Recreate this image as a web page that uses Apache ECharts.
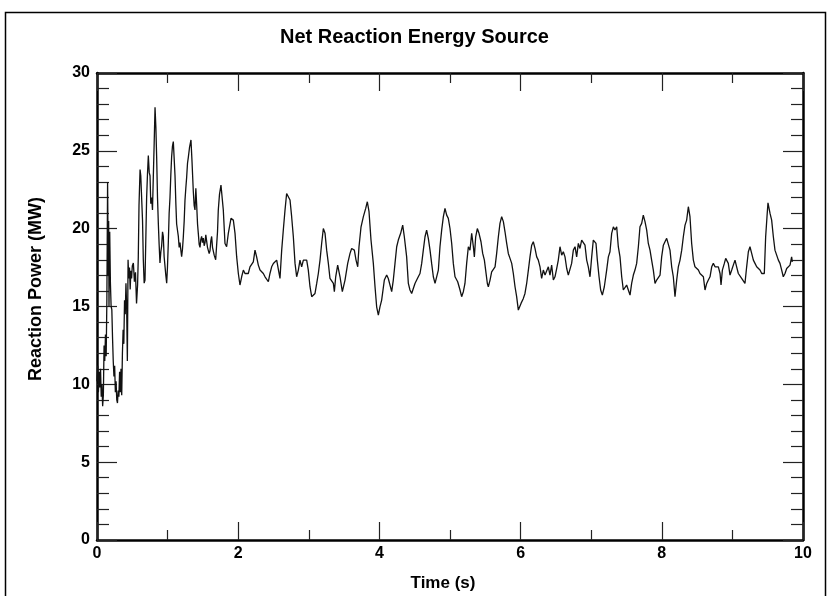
<!DOCTYPE html>
<html>
<head>
<meta charset="utf-8">
<script src="https://cdn.jsdelivr.net/npm/echarts@6/dist/echarts.min.js"></script>
<style>
html,body{margin:0;padding:0;background:#fff;}
#chart{width:829px;height:596px;}
</style>
</head>
<body>
<div id="chart"></div>
<script>
var titleText = "Net Reaction Energy Source";
var xName = "Time (s)";
var yName = "Reaction Power (MW)";
var xTicks = [0, 2, 4, 6, 8, 10];
var yTicks = [0, 5, 10, 15, 20, 25, 30];

var time = [
0.00,0.01,0.02,0.03,0.04,0.05,0.06,0.07,0.08,0.09,0.10,0.11,0.12,0.13,0.14,0.15,0.16,0.165,0.17,0.18,0.19,0.20,
0.21,0.22,0.23,0.24,0.25,0.26,0.27,0.28,0.29,0.30,0.31,0.32,0.33,0.34,0.35,0.36,0.37,0.38,0.39,0.40,0.41,0.42,
0.43,0.44,0.45,0.46,0.47,0.48,0.49,0.50,0.515,0.53,0.545,0.56,0.575,0.585,0.595,0.61,0.62,0.633,0.645,0.656,
0.668,0.68,0.69,0.703,0.715,0.727,0.74,0.751,0.762,0.774,0.786,0.798,0.81,0.822,0.834,0.845,0.857,0.869,0.88,
0.892,0.904,0.916,0.928,0.939,0.951,0.963,0.975,0.987,0.998,1.010,1.022,1.034,1.046,1.057,1.069,1.081,1.093,
1.105,1.117,1.128,1.140,1.152,1.164,1.176,1.188,1.199,1.211,1.223,1.235,1.246,1.258,1.270,1.282,1.294,1.31,
1.331,1.345,1.364,1.376,1.388,1.400,1.412,1.424,1.435,1.447,1.459,1.470,1.482,1.494,1.506,1.518,1.530,1.541,
1.553,1.565,1.577,1.589,1.601,1.612,1.624,1.636,1.648,1.660,1.672,1.681,1.695,1.707,1.718,1.735,1.756,1.789,
1.813,1.836,1.860,1.898,1.931,1.955,1.978,2.002,2.025,2.049,2.073,2.096,2.120,2.143,2.167,2.191,2.214,2.238,
2.261,2.285,2.309,2.332,2.356,2.380,2.403,2.427,2.450,2.474,2.498,2.521,2.545,2.568,2.592,2.616,2.639,2.663,
2.686,2.710,2.734,2.757,2.781,2.805,2.828,2.852,2.875,2.899,2.923,2.946,2.970,2.993,3.017,3.041,3.064,3.088,
3.112,3.135,3.159,3.182,3.206,3.230,3.253,3.277,3.300,3.324,3.348,3.362,3.381,3.409,3.442,3.475,3.513,3.551,
3.584,3.607,3.645,3.669,3.693,3.711,3.740,3.773,3.806,3.829,3.853,3.881,3.914,3.938,3.961,3.985,4.008,4.032,
4.070,4.103,4.126,4.150,4.174,4.197,4.221,4.245,4.268,4.301,4.330,4.353,4.386,4.410,4.433,4.457,4.481,4.504,
4.528,4.551,4.575,4.599,4.622,4.646,4.669,4.693,4.717,4.740,4.764,4.788,4.811,4.835,4.858,4.882,4.906,4.929,
4.953,4.976,5.000,5.024,5.047,5.071,5.109,5.142,5.165,5.189,5.212,5.236,5.260,5.283,5.307,5.331,5.345,5.364,
5.387,5.411,5.439,5.463,5.487,5.505,5.529,5.543,5.567,5.590,5.614,5.638,5.661,5.685,5.708,5.732,5.756,5.779,
5.803,5.826,5.850,5.874,5.897,5.921,5.944,5.968,5.982,6.006,6.039,6.062,6.086,6.110,6.133,6.157,6.180,6.204,
6.228,6.251,6.275,6.298,6.322,6.346,6.369,6.393,6.416,6.440,6.464,6.487,6.511,6.534,6.558,6.582,6.605,6.629,
6.653,6.676,6.700,6.723,6.747,6.771,6.794,6.818,6.841,6.865,6.889,6.912,6.936,6.959,6.983,7.007,7.030,7.054,
7.068,7.087,7.111,7.134,7.158,7.186,7.219,7.243,7.266,7.290,7.314,7.337,7.361,7.384,7.408,7.432,7.455,7.479,
7.502,7.526,7.550,7.573,7.597,7.620,7.644,7.668,7.691,7.715,7.738,7.762,7.786,7.809,7.833,7.856,7.880,7.904,
7.927,7.951,7.975,7.998,8.022,8.045,8.069,8.093,8.116,8.140,8.163,8.187,8.211,8.234,8.258,8.282,8.305,8.329,
8.352,8.376,8.399,8.423,8.447,8.470,8.494,8.518,8.541,8.565,8.589,8.612,8.636,8.659,8.683,8.707,8.730,8.754,
8.777,8.801,8.825,8.839,8.858,8.886,8.905,8.928,8.942,8.966,8.990,9.013,9.037,9.060,9.084,9.108,9.131,9.155,
9.178,9.202,9.226,9.249,9.273,9.297,9.320,9.344,9.367,9.391,9.415,9.438,9.452,9.471,9.490,9.504,9.533,9.556,
9.580,9.603,9.627,9.651,9.674,9.698,9.721,9.745,9.769,9.792,9.816,9.839,9.849
];

var power = [
10.2,11.2,9.5,10.8,9.8,11.0,9.2,10.0,8.6,9.3,12.5,11.5,13.2,11.8,15.5,23.0,17.0,20.5,15.0,19.8,16.5,15.0,
14.8,13.0,11.5,10.5,11.2,9.5,10.2,9.0,8.8,9.6,9.2,10.8,9.5,11.0,9.3,12.0,13.5,12.6,15.4,14.5,16.5,15.0,
11.5,18.0,16.8,17.5,16.1,17.3,16.8,17.6,17.8,16.6,17.2,15.2,16.4,18.2,21.5,23.8,23.4,23.4,20.5,18.0,
16.5,16.7,19.0,22.0,23.5,24.7,23.6,23.4,21.6,22.0,21.2,23.4,25.5,27.8,26.5,24.6,22.0,20.3,19.0,
17.8,18.5,18.9,19.8,19.5,18.2,18.2,17.0,16.5,17.5,19.1,21.0,22.0,23.5,24.6,25.3,25.6,24.5,
23.4,21.6,20.3,19.9,19.5,18.8,19.1,18.6,18.2,18.7,19.5,20.5,21.8,22.6,23.3,24.2,24.6,25.2,
25.7,24.4,22.4,21.5,21.2,22.6,21.5,20.3,19.7,19.0,18.8,19.3,19.5,19.1,19.4,18.9,19.1,19.6,
19.5,18.8,18.9,18.4,18.6,19.2,19.5,18.8,18.7,18.3,18.4,18.0,18.0,19.8,21.2,22.2,22.8,21.2,
19.05,18.84,19.7,20.66,20.55,19.7,18.2,17.12,16.38,16.91,17.34,17.12,17.23,17.12,17.55,17.44,17.87,18.62,
18.19,17.66,17.34,17.23,17.12,16.91,16.8,16.59,17.12,17.55,17.76,17.87,17.98,17.98,16.8,18.62,19.91,21.19,
22.26,22.37,21.84,20.77,19.48,17.77,16.91,17.34,17.98,17.55,17.98,18.09,17.98,17.34,16.27,15.63,15.63,15.84,
16.48,17.12,17.98,19.05,20.01,19.7,18.62,17.77,16.8,16.7,16.48,15.95,16.91,17.66,16.91,15.95,16.7,17.77,
18.41,18.73,18.62,17.98,17.55,18.84,20.12,20.77,21.3,21.73,21.09,19.27,17.77,16.27,14.98,14.45,14.98,15.41,
16.7,17.02,16.8,16.91,15.95,16.7,17.77,18.84,19.27,19.7,20.23,19.48,18.19,16.48,16.06,15.84,15.95,16.48,
16.7,16.91,17.12,17.77,18.62,19.48,19.91,19.38,18.62,17.77,16.91,16.48,16.59,17.34,18.84,19.91,20.77,21.3,
20.87,20.66,20.01,19.05,17.77,16.91,16.59,16.06,15.63,15.95,16.48,17.77,18.84,18.62,19.7,18.84,18.19,19.48,
20.01,19.7,19.16,18.41,17.98,17.34,16.48,16.27,16.7,17.23,17.12,17.55,18.41,19.48,20.34,20.77,20.45,19.8,
19.05,18.41,18.09,17.77,17.12,16.27,15.63,14.77,14.66,15.2,15.52,15.84,16.48,17.34,18.19,18.94,19.16,18.73,
18.19,17.98,17.55,16.8,17.34,17.02,16.91,17.55,17.02,17.66,16.7,16.91,17.44,17.98,18.84,18.3,18.52,18.19,
17.44,17.02,16.91,17.77,18.62,18.84,18.19,19.05,18.73,19.27,19.16,18.94,17.98,17.55,16.91,18.19,19.27,19.38,
19.05,17.98,16.91,16.06,15.73,16.27,17.34,18.19,18.52,19.7,20.12,19.91,20.12,18.84,18.19,16.91,16.06,15.95,
16.38,16.06,15.73,16.48,17.02,17.34,17.77,18.84,20.12,20.34,20.87,20.45,19.91,19.05,18.62,17.98,17.34,16.48,
16.7,16.8,17.02,18.19,18.94,19.16,19.38,19.27,18.62,17.55,16.91,15.63,16.7,17.55,17.98,18.62,19.48,20.23,
20.55,21.41,20.77,19.05,17.98,17.55,17.44,17.34,17.12,17.12,16.91,16.06,16.48,16.7,16.91,17.55,17.77,17.55,
17.66,17.55,17.12,16.38,17.34,17.77,18.09,18.19,17.77,17.02,17.34,17.66,17.98,17.55,17.12,17.23,16.8,16.7,
16.48,17.55,18.52,18.84,18.41,17.98,17.77,17.55,17.44,17.34,17.12,17.02,17.12,19.48,20.77,21.66,20.98,20.55,
19.48,18.62,18.3,17.98,17.77,17.34,16.91,17.12,17.44,17.34,17.66,18.19,17.87
];

var seriesData = time.map(function (t, i) { return [t, power[i]]; });

var labelFont = {color: '#000', fontFamily: 'Liberation Sans, Arial, sans-serif', fontWeight: 'bold', fontSize: 16};

function xAxisCfg(pos, showLabel) {
  return {
    type: 'value', position: pos, min: xTicks[0], max: xTicks[xTicks.length - 1],
    interval: xTicks[1] - xTicks[0],
    axisLine: {show: true, onZero: false, lineStyle: {color: '#000', width: 2.5}},
    axisTick: {show: true, inside: true, length: 18, lineStyle: {color: '#222', width: 1.2}},
    minorTick: {show: true, splitNumber: 2, length: 10, lineStyle: {color: '#222', width: 1.2}},
    splitLine: {show: false},
    axisLabel: Object.assign({show: showLabel, margin: 6}, labelFont)
  };
}
function yAxisCfg(pos, showLabel) {
  return {
    type: 'value', position: pos, min: yTicks[0], max: yTicks[yTicks.length - 1],
    interval: yTicks[1] - yTicks[0],
    axisLine: {show: true, onZero: false, lineStyle: {color: '#000', width: 2.5}},
    axisTick: {show: true, inside: true, length: 20, lineStyle: {color: '#222', width: 1.2}},
    minorTick: {show: true, splitNumber: 5, length: 12, lineStyle: {color: '#222', width: 1.2}},
    splitLine: {show: false},
    axisLabel: Object.assign({show: showLabel, margin: 7}, labelFont)
  };
}

var chart = echarts.init(document.getElementById('chart'), null, {renderer: 'canvas'});
chart.setOption({
  backgroundColor: '#fff',
  animation: false,
  title: {
    text: titleText, left: 'center', top: 22,
    textStyle: {color: '#000', fontFamily: 'Liberation Sans, Arial, sans-serif', fontWeight: 'bold', fontSize: 20}
  },
  grid: {left: 97, top: 73, width: 706, height: 467, containLabel: false},
  xAxis: [xAxisCfg('bottom', true), xAxisCfg('top', false)],
  yAxis: [yAxisCfg('left', true), yAxisCfg('right', false)],
  graphic: [
    {type: 'rect', shape: {x: 5.5, y: 12.5, width: 820, height: 600}, style: {fill: 'none', stroke: '#000', lineWidth: 1.5}, z: -1},
    {type: 'text', x: 443, y: 583, style: {text: xName, fill: '#000', font: 'bold 17px "Liberation Sans", Arial, sans-serif', textAlign: 'center', textVerticalAlign: 'middle'}},
    {type: 'text', x: 36, y: 289, rotation: Math.PI / 2, style: {text: yName, fill: '#000', font: 'bold 18px "Liberation Sans", Arial, sans-serif', textAlign: 'center', textVerticalAlign: 'middle'}}
  ],
  series: [{
    type: 'line', xAxisIndex: 0, yAxisIndex: 0, data: seriesData,
    showSymbol: false, symbol: 'none', smooth: false,
    lineStyle: {color: '#111', width: 1.3}
  }]
});
</script>
</body>
</html>
